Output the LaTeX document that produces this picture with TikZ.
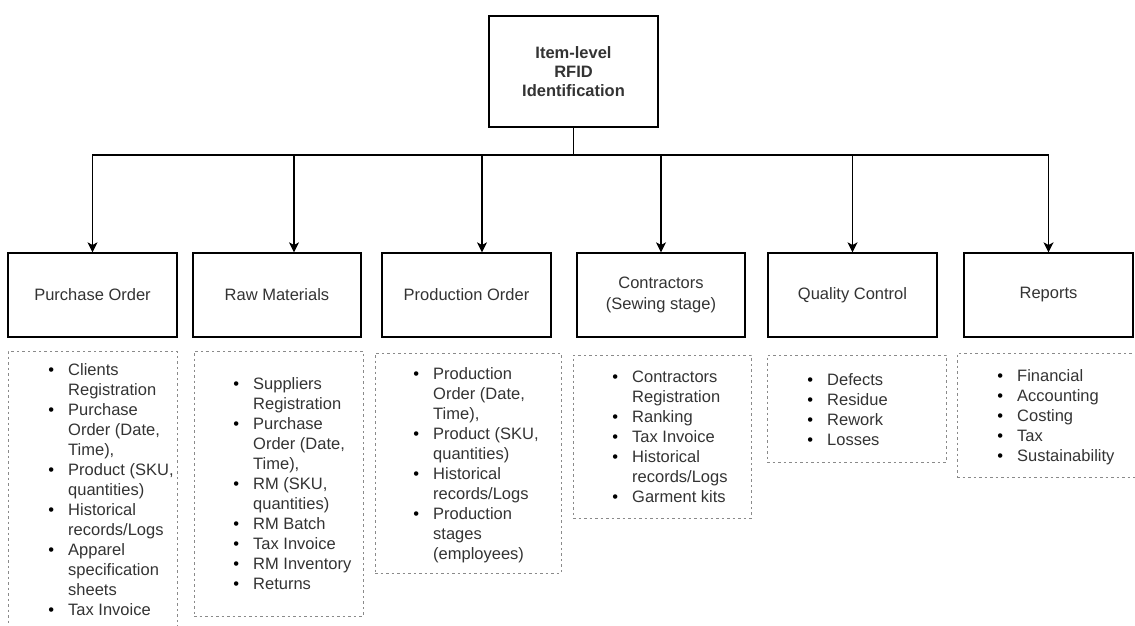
\documentclass[tikz,border=0pt]{standalone}
\usepackage{fontspec}
\setmainfont{Liberation Sans}
\usetikzlibrary{arrows.meta}
\definecolor{txt}{HTML}{333333}
\definecolor{dotc}{HTML}{8A8A8A}
% bullet hung to the left of the item text
\newcommand\lbul{\llap{\textcolor{black}{\textbullet}\hspace{14pt}}}
\tikzset{
  mbox/.style={draw=black, line width=1.2pt, inner sep=0pt, align=center,
    text=txt, font=\fontsize{16.5}{20}\selectfont},
  dbox/.style={draw=dotc, line width=0.9pt, dash pattern=on 2.5pt off 3pt, inner sep=0pt},
  lst/.style={inner sep=0pt, anchor=base west, text=txt, font=\fontsize{16.5}{20}\selectfont},
  conn/.style={line width=1.2pt, line cap=rect},
  arr/.style={line width=1.2pt, -{Stealth[length=10pt,width=10pt,inset=2.5pt]}}
}
\begin{document}
\begin{tikzpicture}[x=1pt,y=-1pt]
\useasboundingbox (0,0) rectangle (1135,626);

% root
\node[mbox, minimum width=169pt, minimum height=111pt,
  font=\fontsize{16.5}{19}\selectfont\bfseries] (root) at (573.5,71.5)
  {Item-level\\RFID\\Identification};

% categories
\node[mbox, minimum width=169pt, minimum height=84pt] (b1) at (92.5,295) {Purchase Order};
\node[mbox, minimum width=168pt, minimum height=84pt] (b2) at (277,295) {Raw Materials};
\node[mbox, minimum width=169pt, minimum height=84pt] (b3) at (466.5,295) {Production Order};
\node[mbox, minimum width=168pt, minimum height=84pt, font=\fontsize{16.5}{21}\selectfont] (b4) at (661,295) {Contractors\\(Sewing stage)};
\node[mbox, minimum width=169pt, minimum height=84pt] (b5) at (852.5,295) {Quality Control};
\node[mbox, minimum width=169pt, minimum height=84pt] (b6) at (1048.5,295) {Reports};

% connectors
\coordinate (hub) at (root.south |- 0,155);
\coordinate (t2) at (294,155);
\coordinate (t3) at (482,155);
\draw[conn] (root.south) -- (hub);
\draw[conn] (b1.north |- hub) -- (b6.north |- hub);
\draw[arr] (b1.north |- hub) -- (b1.north);
\draw[arr] (t2) -- (t2 |- b2.north);
\draw[arr] (t3) -- (t3 |- b3.north);
\draw[arr] (b4.north |- hub) -- (b4.north);
\draw[arr] (b5.north |- hub) -- (b5.north);
\draw[arr] (b6.north |- hub) -- (b6.north);

% dotted detail frames
\node[dbox, minimum width=169pt, minimum height=289pt] (d1) at (92.5,495.5) {};
\node[dbox, minimum width=169pt, minimum height=265pt] (d2) at (278.5,483.5) {};
\node[dbox, minimum width=186pt, minimum height=220pt] (d3) at (468,463) {};
\node[dbox, minimum width=178pt, minimum height=163pt] (d4) at (662,436.5) {};
\node[dbox, minimum width=179pt, minimum height=107pt] (d5) at (856.5,408.5) {};
\node[dbox, minimum width=193pt, minimum height=124pt] (d6) at (1053.5,415) {};

% detail lists
\node[lst] (l1) at (68,375) {\begin{tabular}[t]{@{}l@{}}
\lbul Clients\\ Registration\\
\lbul Purchase\\ Order (Date,\\ Time),\\
\lbul Product (SKU,\\ quantities)\\
\lbul Historical\\ records/Logs\\
\lbul Apparel\\ specification\\ sheets\\
\lbul Tax Invoice
\end{tabular}};
\node[lst] (l2) at (253,389) {\begin{tabular}[t]{@{}l@{}}
\lbul Suppliers\\ Registration\\
\lbul Purchase\\ Order (Date,\\ Time),\\
\lbul RM (SKU,\\ quantities)\\
\lbul RM Batch\\
\lbul Tax Invoice\\
\lbul RM Inventory\\
\lbul Returns
\end{tabular}};
\node[lst] (l3) at (433,379) {\begin{tabular}[t]{@{}l@{}}
\lbul Production\\ Order (Date,\\ Time),\\
\lbul Product (SKU,\\ quantities)\\
\lbul Historical\\ records/Logs\\
\lbul Production\\ stages\\ (employees)
\end{tabular}};
\node[lst] (l4) at (632,382) {\begin{tabular}[t]{@{}l@{}}
\lbul Contractors\\ Registration\\
\lbul Ranking\\
\lbul Tax Invoice\\
\lbul Historical\\ records/Logs\\
\lbul Garment kits
\end{tabular}};
\node[lst] (l5) at (827,385) {\begin{tabular}[t]{@{}l@{}}
\lbul Defects\\
\lbul Residue\\
\lbul Rework\\
\lbul Losses
\end{tabular}};
\node[lst] (l6) at (1017,381) {\begin{tabular}[t]{@{}l@{}}
\lbul Financial\\
\lbul Accounting\\
\lbul Costing\\
\lbul Tax\\
\lbul Sustainability
\end{tabular}};
\end{tikzpicture}
\end{document}
